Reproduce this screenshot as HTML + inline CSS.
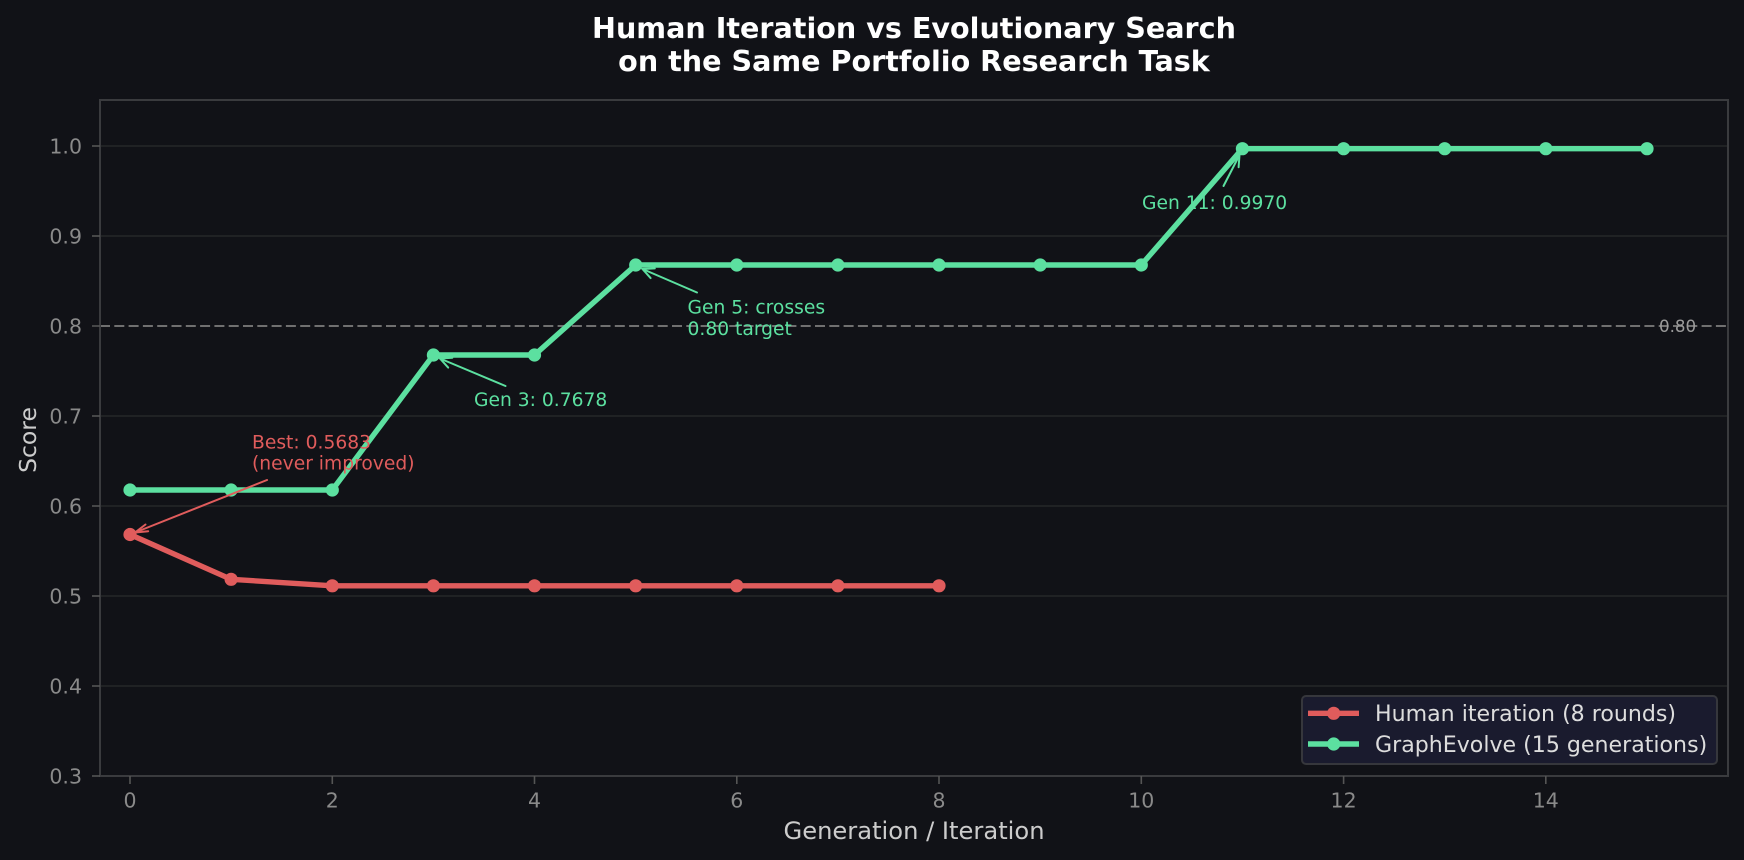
<!DOCTYPE html>
<html>
<head>
<meta charset="utf-8">
<style>
  html,body{margin:0;padding:0;background:#111217;}
  svg{display:block;}
  text{font-family:"DejaVu Sans","Liberation Sans",sans-serif;}
</style>
</head>
<body>
<svg width="1744" height="860" viewBox="0 0 1744 860" xmlns="http://www.w3.org/2000/svg">
  <rect x="0" y="0" width="1744" height="860" fill="#111217"/>

  <!-- Title -->
  <text x="914" y="38" text-anchor="middle" font-size="28.6" font-weight="bold" fill="#ffffff">Human Iteration vs Evolutionary Search</text>
  <text x="914" y="71" text-anchor="middle" font-size="28.6" font-weight="bold" fill="#ffffff">on the Same Portfolio Research Task</text>

  <!-- Axes background -->
  <rect x="100" y="100" width="1628" height="676" fill="#111217"/>

  <!-- Horizontal gridlines -->
  <g stroke="#262729" stroke-width="1.4">
    <line x1="100" y1="686" x2="1728" y2="686"/>
    <line x1="100" y1="596" x2="1728" y2="596"/>
    <line x1="100" y1="506" x2="1728" y2="506"/>
    <line x1="100" y1="416" x2="1728" y2="416"/>
    <line x1="100" y1="236" x2="1728" y2="236"/>
    <line x1="100" y1="146" x2="1728" y2="146"/>
  </g>

  <!-- Target dashed line -->
  <line x1="100" y1="326" x2="1728" y2="326" stroke="#707070" stroke-width="2" stroke-dasharray="10 4.3"/>
  <text x="1659" y="332" font-size="16.7" fill="#9a9a9a">0.80</text>

  <!-- Spines -->
  <rect x="100" y="100" width="1628" height="676" fill="none" stroke="#3a3b3e" stroke-width="2"/>

  <!-- Y ticks -->
  <g stroke="#555" stroke-width="1.6">
    <line x1="92" y1="776" x2="100" y2="776"/>
    <line x1="92" y1="686" x2="100" y2="686"/>
    <line x1="92" y1="596" x2="100" y2="596"/>
    <line x1="92" y1="506" x2="100" y2="506"/>
    <line x1="92" y1="416" x2="100" y2="416"/>
    <line x1="92" y1="326" x2="100" y2="326"/>
    <line x1="92" y1="236" x2="100" y2="236"/>
    <line x1="92" y1="146" x2="100" y2="146"/>
  </g>
  <g font-size="20.5" fill="#8a8a8a" text-anchor="end">
    <text x="82" y="783.5">0.3</text>
    <text x="82" y="693.5">0.4</text>
    <text x="82" y="603.5">0.5</text>
    <text x="82" y="513.5">0.6</text>
    <text x="82" y="423.5">0.7</text>
    <text x="82" y="333.5">0.8</text>
    <text x="82" y="243.5">0.9</text>
    <text x="82" y="153.5">1.0</text>
  </g>

  <!-- X ticks -->
  <g stroke="#555" stroke-width="1.6">
    <line x1="130" y1="776" x2="130" y2="784"/>
    <line x1="332.3" y1="776" x2="332.3" y2="784"/>
    <line x1="534.5" y1="776" x2="534.5" y2="784"/>
    <line x1="736.8" y1="776" x2="736.8" y2="784"/>
    <line x1="939" y1="776" x2="939" y2="784"/>
    <line x1="1141.3" y1="776" x2="1141.3" y2="784"/>
    <line x1="1343.6" y1="776" x2="1343.6" y2="784"/>
    <line x1="1545.8" y1="776" x2="1545.8" y2="784"/>
  </g>
  <g font-size="20.5" fill="#8a8a8a" text-anchor="middle">
    <text x="130" y="807.5">0</text>
    <text x="332.3" y="807.5">2</text>
    <text x="534.5" y="807.5">4</text>
    <text x="736.8" y="807.5">6</text>
    <text x="939" y="807.5">8</text>
    <text x="1141.3" y="807.5">10</text>
    <text x="1343.6" y="807.5">12</text>
    <text x="1545.8" y="807.5">14</text>
  </g>

  <!-- Axis labels -->
  <text x="914" y="839" text-anchor="middle" font-size="24.2" fill="#cccccc">Generation / Iteration</text>
  <text transform="translate(36,440) rotate(-90)" text-anchor="middle" font-size="23.5" fill="#cccccc">Score</text>

  <!-- Human iteration series -->
  <polyline fill="none" stroke="#e05c5c" stroke-width="5.4" stroke-linejoin="round"
    points="130,534.5 231.1,579.3 332.3,585.8 433.4,585.8 534.5,585.8 635.7,585.8 736.8,585.8 837.9,585.8 939,585.8"/>
  <g fill="#e05c5c">
    <circle cx="130" cy="534.5" r="6.6"/>
    <circle cx="231.1" cy="579.3" r="6.6"/>
    <circle cx="332.3" cy="585.8" r="6.6"/>
    <circle cx="433.4" cy="585.8" r="6.6"/>
    <circle cx="534.5" cy="585.8" r="6.6"/>
    <circle cx="635.7" cy="585.8" r="6.6"/>
    <circle cx="736.8" cy="585.8" r="6.6"/>
    <circle cx="837.9" cy="585.8" r="6.6"/>
    <circle cx="939" cy="585.8" r="6.6"/>
  </g>

  <!-- GraphEvolve series -->
  <polyline fill="none" stroke="#5ce0a0" stroke-width="5.4" stroke-linejoin="round"
    points="130,490 231.1,490 332.3,490 433.4,355 534.5,355 635.7,265 736.8,265 837.9,265 939,265 1040.2,265 1141.3,265 1242.4,148.7 1343.6,148.7 1444.7,148.7 1545.8,148.7 1647,148.7"/>
  <g fill="#5ce0a0">
    <circle cx="130" cy="490" r="6.6"/>
    <circle cx="231.1" cy="490" r="6.6"/>
    <circle cx="332.3" cy="490" r="6.6"/>
    <circle cx="433.4" cy="355" r="6.6"/>
    <circle cx="534.5" cy="355" r="6.6"/>
    <circle cx="635.7" cy="265" r="6.6"/>
    <circle cx="736.8" cy="265" r="6.6"/>
    <circle cx="837.9" cy="265" r="6.6"/>
    <circle cx="939" cy="265" r="6.6"/>
    <circle cx="1040.2" cy="265" r="6.6"/>
    <circle cx="1141.3" cy="265" r="6.6"/>
    <circle cx="1242.4" cy="148.7" r="6.6"/>
    <circle cx="1343.6" cy="148.7" r="6.6"/>
    <circle cx="1444.7" cy="148.7" r="6.6"/>
    <circle cx="1545.8" cy="148.7" r="6.6"/>
    <circle cx="1647" cy="148.7" r="6.6"/>
  </g>

  <!-- Annotations -->
  <g stroke="#e05c5c" stroke-width="2" fill="none" stroke-linecap="round">
    <line x1="267" y1="480" x2="135" y2="532.5"/>
    <polyline points="145.5,524.5 135,532.5 148.2,531.2"/>
  </g>
  <text x="252" y="448.5" font-size="18.7" fill="#e05c5c">Best: 0.5683</text>
  <text x="252" y="469.5" font-size="18.7" fill="#e05c5c">(never improved)</text>

  <g stroke="#5ce0a0" stroke-width="2" fill="none" stroke-linecap="round">
    <line x1="505.5" y1="386" x2="440" y2="358.5"/>
    <polyline points="448.2,367.6 440,358.5 452.3,357.8"/>
  </g>
  <text x="474" y="406" font-size="18.7" fill="#5ce0a0">Gen 3: 0.7678</text>

  <g stroke="#5ce0a0" stroke-width="2" fill="none" stroke-linecap="round">
    <line x1="697" y1="292.5" x2="642.5" y2="269"/>
    <polyline points="650.6,278.1 642.5,269 654.8,268.4"/>
  </g>
  <text x="687.5" y="313.5" font-size="18.7" fill="#5ce0a0">Gen 5: crosses</text>
  <text x="687.5" y="335" font-size="18.7" fill="#5ce0a0">0.80 target</text>

  <g stroke="#5ce0a0" stroke-width="2" fill="none" stroke-linecap="round">
    <line x1="1223.5" y1="186" x2="1239.5" y2="155"/>
    <polyline points="1238.6,167.2 1239.5,155 1229.4,162.5"/>
  </g>
  <text x="1142" y="209" font-size="18.7" fill="#5ce0a0">Gen 11: 0.9970</text>

  <!-- Legend -->
  <rect x="1302" y="696" width="415" height="68" rx="4" ry="4" fill="#1a1b2e" stroke="#36373c" stroke-width="2"/>
  <line x1="1308" y1="713.3" x2="1359" y2="713.3" stroke="#e05c5c" stroke-width="5.4"/>
  <circle cx="1333.7" cy="713.3" r="6.6" fill="#e05c5c"/>
  <line x1="1308" y1="744" x2="1359" y2="744" stroke="#5ce0a0" stroke-width="5.4"/>
  <circle cx="1333.7" cy="744" r="6.6" fill="#5ce0a0"/>
  <text x="1375" y="721" font-size="22.1" fill="#dddddd">Human iteration (8 rounds)</text>
  <text x="1375" y="752" font-size="22.1" fill="#dddddd">GraphEvolve (15 generations)</text>
</svg>
</body>
</html>
